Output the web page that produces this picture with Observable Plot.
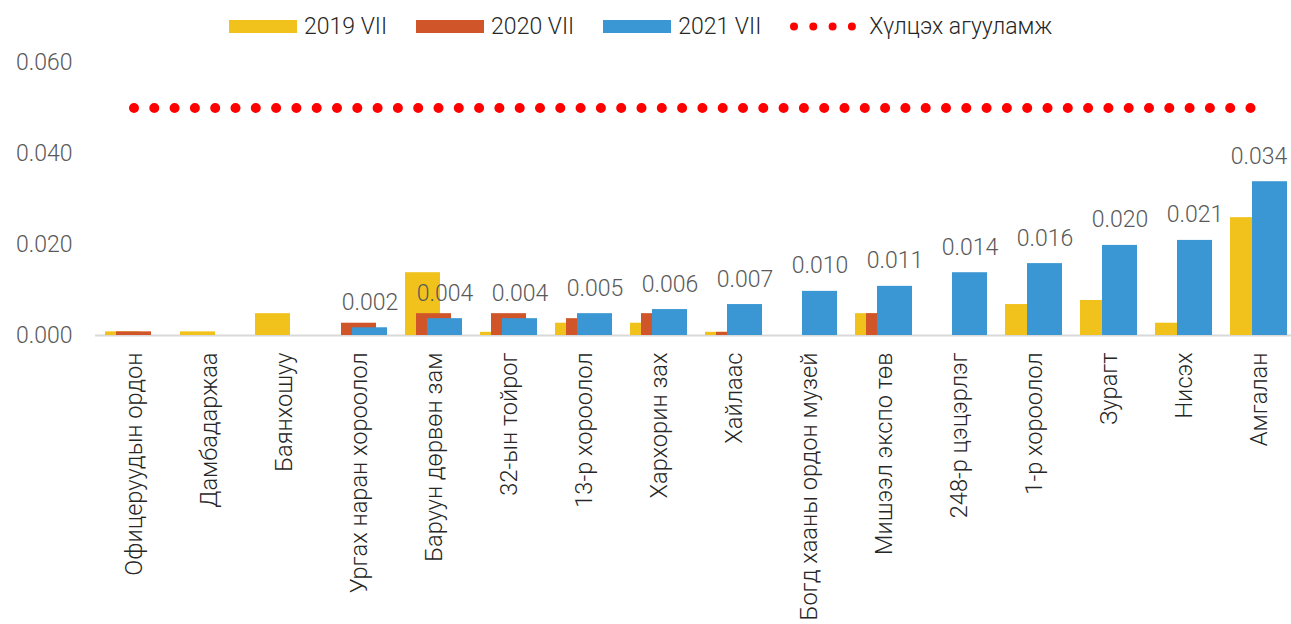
<!DOCTYPE html>
<html>
<head>
<meta charset="utf-8">
<script src="https://cdn.jsdelivr.net/npm/d3@7"></script>
<script src="https://cdn.jsdelivr.net/npm/@observablehq/plot@0.6"></script>
<style>
  body { margin: 0; background: #fff; font-family: Roboto, sans-serif; position: relative; }
  #legend { position: absolute; left: 0; top: 0; width: 1291px; height: 52px; display: flex; align-items: center; padding-left: 229px; box-sizing: border-box;
            font-family: Roboto, sans-serif; font-weight: 300; font-size: 23px; color: #262626; z-index: 2; }
  .item { display: flex; align-items: center; margin-right: 29px; }
  .sw { width: 68px; height: 13px; margin-right: 7px; }
</style>
</head>
<body>
<div id="chart"></div>
<div id="legend"></div>
<script>
const categories = ["Офицеруудын ордон","Дамбадаржаа","Баянхошуу","Ургах наран хороолол","Баруун дөрвөн зам","32-ын тойрог","13-р хороолол","Хархорин зах","Хайлаас","Богд хааны ордон музей","Мишээл экспо төв","248-р цэцэрлэг","1-р хороолол","Зурагт","Нисэх","Амгалан"];
const v2019 = [0.0008,0.0008,0.0048,0,0.0138,0.0007,0.0027,0.0027,0.0007,0,0.0048,0,0.0068,0.0077,0.0027,0.0259];
const v2020 = [0.0008,0,0,0.0027,0.0048,0.0048,0.0037,0.0048,0.0007,0,0.0048,0,0,0,0,0];
const v2021 = [0,0,0,0.0017,0.0037,0.0037,0.0048,0.0057,0.0068,0.0097,0.0108,0.0138,0.0158,0.0198,0.0209,0.0338];
const standard = 0.05;
const seriesNames = ["2019 VII","2020 VII","2021 VII","Хүлцэх агууламж"];
const colors = ["#F1C21B","#D0562A","#3B97D3","#FF0000"];
const yTicks = [0, 0.02, 0.04, 0.06];

const rows = categories.map((c, i) => ({cat: c, v19: v2019[i], v20: v2020[i], v21: v2021[i], std: standard, last: i === categories.length - 1}));
const fmt = d3.format(".3f");

// legend
const legend = document.getElementById("legend");
seriesNames.forEach((name, i) => {
  const it = document.createElement("div");
  it.className = "item";
  if (i < 3) {
    it.innerHTML = `<div class="sw" style="background:${colors[i]}"></div><span>${name}</span>`;
  } else {
    it.innerHTML = `<svg width="66" height="13" style="margin-right:13px"><line x1="4" x2="62" y1="6.5" y2="6.5" stroke="${colors[3]}" stroke-width="8" stroke-linecap="round" stroke-dasharray="0 19.3"/></svg><span>${name}</span>`;
  }
  legend.appendChild(it);
});

const chart = Plot.plot({
  width: 1291,
  height: 624,
  marginLeft: 95,
  marginRight: 0,
  marginTop: 62,
  marginBottom: 289,
  style: {fontFamily: "Roboto, sans-serif", fontWeight: 300, background: "#fff"},
  x: {domain: categories, range: [95, 1296], paddingInner: 0.534, paddingOuter: 0.267},
  y: {domain: [0, 0.06]},
  marks: [
    Plot.ruleY([0], {stroke: "#d9d9d9", strokeWidth: 2}),
    Plot.barY(rows, {x: "cat", y: "v19", fill: colors[0], dx: -11}),
    Plot.barY(rows, {x: "cat", y: "v20", fill: colors[1]}),
    Plot.barY(rows, {x: "cat", y: "v21", fill: colors[2], dx: 11}),
    Plot.lineY(rows, {x: "cat", y: "std", stroke: colors[3], strokeWidth: 10, strokeLinecap: "round", strokeDasharray: "0 20.3"}),
    Plot.text(rows.filter(d => d.v21 > 0 && !d.last), {x: "cat", y: "v21", text: d => fmt(d.v21), dx: 11, dy: -18, lineAnchor: "bottom", fill: "#595959", fontSize: 23}),
    Plot.text(rows.filter(d => d.v21 > 0 && d.last), {x: "cat", y: "v21", text: d => fmt(d.v21), dx: 0, dy: -18, lineAnchor: "bottom", fill: "#595959", fontSize: 23}),
    Plot.axisY({ticks: yTicks, tickFormat: ".3f", tickSize: 0, tickPadding: 23, color: "#595959", fontSize: 23, label: null}),
    Plot.axisX({tickRotate: -90, tickSize: 0, tickPadding: 17, color: "#262626", fontSize: 23.6, label: null})
  ]
});
document.getElementById("chart").appendChild(chart);
</script>
</body>
</html>
